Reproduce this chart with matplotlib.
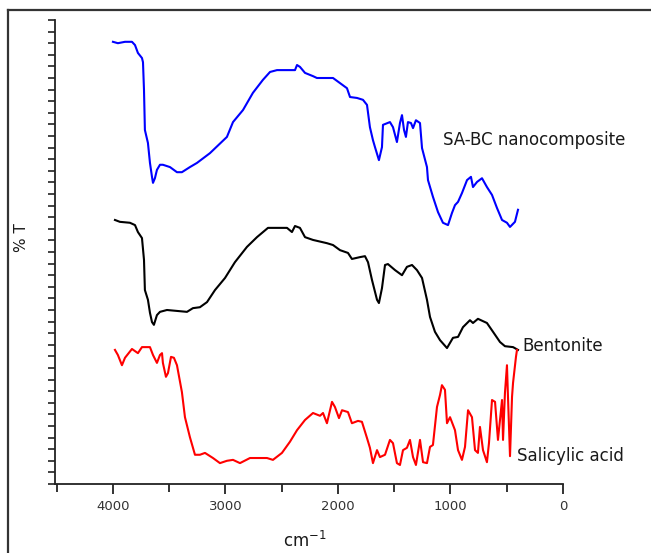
import matplotlib
matplotlib.use("Agg")
import matplotlib.pyplot as plt
from matplotlib.lines import Line2D
from matplotlib.ticker import MultipleLocator, NullFormatter

plt.rcParams['font.family'] = ['DejaVu Sans']

# ---- data (wavenumber cm-1, %T) ----
sabc_wn = [4000, 3956, 3893, 3831, 3804, 3778, 3742, 3733, 3724, 3716, 3689, 3671, 3653, 3644,
           3627, 3609, 3582, 3556, 3493, 3431, 3387, 3316, 3253, 3138, 2987, 2933, 2844, 2756,
           2667, 2604, 2542, 2382, 2364, 2338, 2293, 2222, 2187, 2044, 1982, 1920, 1893, 1831,
           1778, 1742, 1716, 1689, 1671, 1636, 1609, 1600, 1538, 1511, 1476, 1449, 1431, 1413,
           1396, 1378, 1351, 1333, 1307, 1271, 1253, 1209, 1200, 1156, 1111, 1067, 1022, 987,
           960, 933, 898, 853, 818, 800, 764, 720, 676, 631, 587, 542, 498, 471, 427, 400]
sabc_t = [95.3, 95.0, 95.3, 95.3, 94.6, 92.9, 91.8, 90.9, 84.9, 76.3, 73.5, 69.2, 66.2, 64.9,
          65.9, 67.7, 68.8, 68.8, 68.3, 67.2, 67.2, 68.3, 69.2, 71.3, 74.8, 78.0, 80.6, 84.3,
          87.1, 88.8, 89.2, 89.2, 90.3, 89.9, 88.6, 87.9, 87.5, 87.5, 86.4, 85.3, 83.4, 83.2,
          82.8, 81.7, 76.9, 74.1, 72.6, 69.8, 72.6, 77.4, 78.0, 76.9, 73.7, 77.8, 79.5, 76.3,
          74.8, 78.0, 77.8, 76.7, 78.4, 77.8, 72.4, 68.3, 65.5, 61.9, 58.6, 56.3, 55.8, 58.4,
          60.1, 60.8, 62.7, 65.5, 66.2, 64.0, 65.1, 65.9, 64.0, 62.3, 59.5, 56.9, 56.3, 55.4, 56.5, 59.1]

bent_wn = [3982, 3938, 3849, 3804, 3778, 3742, 3724, 3716, 3689, 3671, 3653, 3636, 3609, 3582,
           3520, 3342, 3289, 3227, 3164, 3093, 3004, 2916, 2809, 2720, 2622, 2453, 2409, 2382,
           2338, 2293, 2222, 2098, 2044, 1982, 1911, 1876, 1804, 1760, 1733, 1698, 1653, 1636,
           1609, 1582, 1556, 1493, 1431, 1387, 1342, 1298, 1253, 1209, 1182, 1138, 1093, 1031,
           978, 933, 889, 827, 800, 756, 676, 622, 560, 516, 444, 400]
bent_t = [56.9, 56.5, 56.3, 55.8, 54.3, 53.0, 48.3, 41.8, 39.7, 36.9, 34.9, 34.3, 36.4, 37.1,
          37.5, 37.1, 37.9, 38.1, 39.2, 41.8, 44.4, 47.8, 51.1, 53.2, 55.2, 55.2, 54.3, 55.6,
          55.2, 53.2, 52.6, 51.9, 51.5, 50.4, 49.8, 48.5, 48.9, 49.1, 47.8, 44.0, 39.7, 39.0,
          42.2, 47.2, 47.4, 46.1, 45.0, 46.8, 47.2, 46.1, 44.4, 39.7, 36.0, 32.8, 31.0, 29.3,
          31.5, 31.7, 33.8, 35.3, 34.7, 35.6, 34.7, 32.8, 30.6, 29.7, 29.5, 28.9]

sa_wn = [3982, 3956, 3920, 3893, 3831, 3778, 3742, 3671, 3644, 3609, 3582, 3564, 3556, 3529,
         3511, 3484, 3458, 3431, 3387, 3360, 3316, 3271, 3227, 3182, 3111, 3049, 2987, 2933,
         2871, 2782, 2631, 2578, 2498, 2427, 2364, 2293, 2222, 2160, 2133, 2098, 2053, 2027,
         1991, 1964, 1911, 1876, 1822, 1787, 1742, 1716, 1689, 1653, 1627, 1582, 1538, 1511,
         1476, 1449, 1422, 1387, 1360, 1333, 1307, 1271, 1244, 1209, 1182, 1156, 1120, 1093,
         1076, 1049, 1031, 1004, 960, 933, 898, 871, 844, 809, 782, 756, 738, 711, 676, 658,
         631, 604, 578, 542, 533, 516, 498, 489, 471, 453, 444, 418, 409]
sa_t = [28.9, 27.8, 25.6, 27.2, 29.1, 28.2, 29.5, 29.5, 27.8, 26.1, 27.8, 28.2, 26.1, 23.1,
        23.9, 27.4, 27.2, 25.6, 19.8, 14.4, 10.1, 6.3, 6.3, 6.7, 5.6, 4.5, 5.0, 5.2,
        4.5, 5.6, 5.6, 5.2, 6.7, 9.1, 11.6, 13.8, 15.3, 14.7, 15.3, 13.1, 17.7, 16.6,
        14.2, 15.9, 15.5, 13.1, 13.6, 13.4, 9.9, 7.8, 4.5, 7.3, 5.8, 6.3, 9.5, 8.8,
        4.5, 4.1, 7.3, 7.8, 9.5, 5.8, 4.1, 9.5, 4.7, 4.5, 8.0, 8.4, 16.6, 19.2,
        21.3, 20.3, 13.1, 14.4, 11.6, 7.3, 5.2, 8.0, 15.9, 14.4, 7.3, 6.7, 12.3, 7.3, 4.7, 8.8,
        18.1, 17.7, 9.5, 18.1, 9.5, 19.6, 25.6, 18.8, 6.0, 18.8, 21.8, 27.4, 28.9]

series_names = ["SA-BC nanocomposite", "Bentonite", "Salicylic acid"]
series_colors = ["#0000ff", "#000000", "#ff0000"]
label_pos = [(1067, 74.1), (364, 29.7), (409, 6.0)]
x_ticks = [4000, 3000, 2000, 1000, 0]

W, H = 651, 553
fig = plt.figure(figsize=(W / 100, H / 100), dpi=100)
ax = fig.add_axes([55 / W, (H - 484) / H, (563 - 55) / W, (484 - 20) / H])

for wn, t, c in zip([sabc_wn, bent_wn, sa_wn], [sabc_t, bent_t, sa_t], series_colors):
    ax.plot(wn, t, color=c, lw=1.5)

for name, (xp, yp) in zip(series_names, label_pos):
    ax.text(xp, yp, name, fontsize=12, color="#1a1a1a", ha='left', va='center', clip_on=False)

ax.set_xlim(4515, 0)
ax.set_ylim(0, 100)
ax.set_xticks(x_ticks)
ax.set_xticklabels([str(v) for v in x_ticks])
ax.xaxis.set_minor_locator(MultipleLocator(500))
ax.yaxis.set_major_locator(MultipleLocator(2.5))
ax.yaxis.set_major_formatter(NullFormatter())

for s in ['top', 'right']:
    ax.spines[s].set_visible(False)
for s in ['left', 'bottom']:
    ax.spines[s].set_linewidth(1.3)
    ax.spines[s].set_color('#222222')

ax.tick_params(axis='x', which='major', direction='out', length=7.5, width=1.3,
               color='#222222', labelsize=9.5, labelcolor='#333333', pad=4)
ax.tick_params(axis='x', which='minor', direction='out', length=6, width=1.3, color='#222222')
ax.tick_params(axis='y', which='major', direction='out', length=5, width=1.2, color='#222222')

fig.text(22 / W, (H - 238) / H, "% T", rotation=90, ha='center', va='center',
         fontsize=11, color='#1a1a1a')
fig.text(305 / W, 6 / H, r"cm$^{\mathregular{-1}}$", ha='center', va='baseline',
         fontsize=12, color='#1a1a1a')

# outer frame (top and left edges visible)
fig.add_artist(Line2D([8 / W, 1.0], [(H - 10) / H, (H - 10) / H], transform=fig.transFigure,
                      color='#333333', lw=1.6))
fig.add_artist(Line2D([8 / W, 8 / W], [0.0, (H - 10) / H], transform=fig.transFigure,
                      color='#333333', lw=1.6))

fig.savefig("out.png", dpi=100)
